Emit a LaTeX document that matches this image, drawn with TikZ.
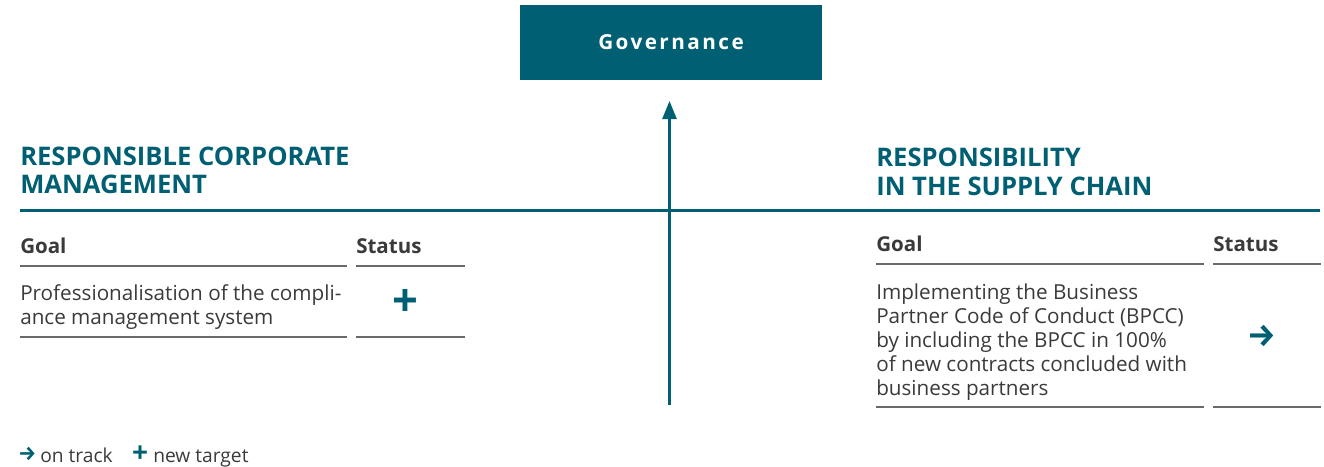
\documentclass[tikz,border=0pt]{standalone}
\usepackage{fontspec}
\setmainfont{Open Sans}
\newfontfamily\spacedfont[LetterSpace=12]{Open Sans}
\newfontfamily\symbolfont{Fira Sans}
\usetikzlibrary{arrows.meta}
\definecolor{petrol}{HTML}{005F72}
\definecolor{ink}{HTML}{3A3A3A}
\definecolor{rulegray}{HTML}{6A6A6A}
\begin{document}
\begin{tikzpicture}[x=0.75pt, y=-0.75pt,
    head/.style={anchor=base west, inner sep=0pt, text=petrol, align=left,
      font=\bfseries\fontsize{19.2}{21}\selectfont},
    colhead/.style={anchor=base west, inner sep=0pt, text=ink,
      font=\bfseries\fontsize{15.4}{18}\selectfont},
    body/.style={anchor=base west, inner sep=0pt, text=ink, align=left,
      font=\fontsize{15.5}{18}\selectfont},
    statusmark/.style={inner sep=0pt, text=petrol, font=\bfseries\fontsize{34}{34}\selectfont},
    arrowmark/.style={inner sep=0pt, text=petrol, font=\symbolfont\bfseries\fontsize{24}{24}\selectfont},
    rule/.style={draw=rulegray, line width=1.1pt}]
  \useasboundingbox (0,0) rectangle (1324,467);
  % governance box and arrow
  \node (gov) [fill=petrol, text=white, minimum width=226.5pt, minimum height=56.25pt,
    font=\spacedfont\bfseries\fontsize{15.5}{18}\selectfont] at (671,42.5) {Governance};
  \coordinate (foot) at (669.5,405);
  \coordinate (tip) at (669.5,101);
  \draw [petrol, line width=1.9pt, -{Triangle[length=13.5pt, width=10.5pt]}] (foot) -- (tip);
  \coordinate (lineL) at (20,210.5);
  \coordinate (lineR) at (1320,210.5);
  \draw [petrol, line width=1.9pt] (lineL) -- (lineR);
  % left block
  \node (headL) [head] at (20,193) {RESPONSIBLE CORPORATE\\MANAGEMENT};
  \node (goalL) [colhead] at (20,253) {Goal};
  \node (statL) [colhead] at (356,253) {Status};
  \draw [rule] (20,266) -- (347,266);
  \draw [rule] (356,266) -- (465,266);
  \node (textL) [body] at (20,324) {Professionalisation of the compli-\\ance management system};
  \node (plusL) [statusmark] at (405.5,303) {+};
  \draw [rule] (20,337) -- (347,337);
  \draw [rule] (356,337) -- (465,337);
  % right block
  \node (headR) [head] at (876,195) {RESPONSIBILITY\\IN THE SUPPLY CHAIN};
  \node (goalR) [colhead] at (876,251) {Goal};
  \node (statR) [colhead] at (1213,251) {Status};
  \draw [rule] (876,264) -- (1204,264);
  \draw [rule] (1213,264) -- (1321,264);
  \node (textR) [body] at (876,395) {Implementing the Business\\Partner Code of Conduct (BPCC)\\by including the BPCC in 100\%\\of new contracts concluded with\\business partners};
  \node (arrR) [arrowmark] at (1262,336) {→};
  \draw [rule] (876,407) -- (1204,407);
  \draw [rule] (1213,407) -- (1321,407);
  % legend
  \node (arrKey) [arrowmark, font=\symbolfont\bfseries\fontsize{15}{15}\selectfont] at (27.5,454) {→};
  \node (arrTxt) [body, font=\fontsize{14.4}{16}\selectfont] at (40,462) {on track};
  \node (plusKey) [statusmark, font=\bfseries\fontsize{21}{21}\selectfont] at (140,454) {+};
  \node (plusTxt) [body, font=\fontsize{14.4}{16}\selectfont] at (153,462) {new target};
\end{tikzpicture}
\end{document}
